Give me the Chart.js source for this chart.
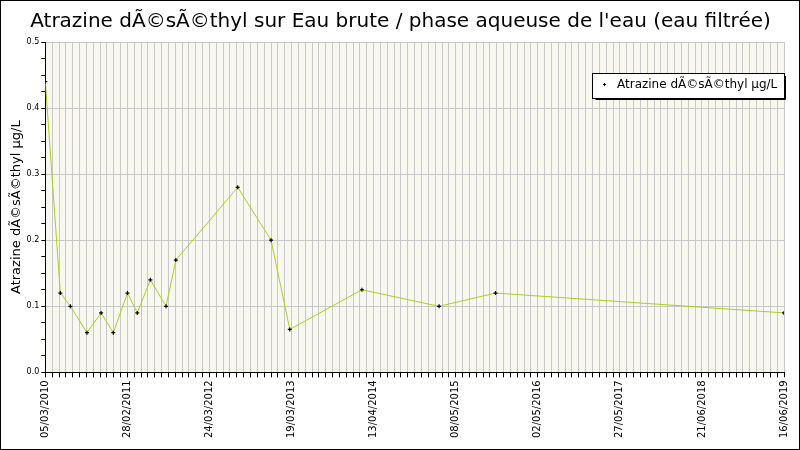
<!DOCTYPE html>
<html><head><meta charset="utf-8">
<script src="https://cdn.jsdelivr.net/npm/chart.js@4"></script>
<style>html,body{margin:0;padding:0;background:#fff}#w{width:798px;height:448px;border:1px solid #000;position:relative}</style>
</head><body><div id="w"><canvas id="c" width="798" height="448"></canvas></div>
<script>
const title = "Atrazine dÃ©sÃ©thyl sur Eau brute / phase aqueuse de l'eau (eau filtrée)";
const seriesName = "Atrazine dÃ©sÃ©thyl µg/L";
const yTitle = "Atrazine dÃ©sÃ©thyl µg/L";
const dates = ["2010-03-05","2010-05-13","2010-06-28","2010-09-12","2010-11-16","2011-01-11","2011-03-17","2011-05-01","2011-06-30","2011-09-10","2011-10-25","2012-08-04","2013-01-04","2013-03-31","2014-02-25","2015-02-14","2015-10-31","2019-06-16"];
const values = [0.44,0.12,0.10,0.06,0.09,0.06,0.12,0.09,0.14,0.10,0.17,0.28,0.20,0.065,0.125,0.10,0.12,0.09];
const tickLabels = ["05/03/2010","28/02/2011","24/03/2012","19/03/2013","13/04/2014","08/05/2015","02/05/2016","27/05/2017","21/06/2018","16/06/2019"];
const startDate = "2010-03-05", endDate = "2019-06-16";

const dayOf = s => Date.parse(s + "T00:00:00Z") / 86400000;
const x0 = dayOf(startDate), x1 = dayOf(endDate);
const pts = dates.map((d, i) => ({x: dayOf(d) - x0, y: values[i]}));
const span = x1 - x0, nLab = tickLabels.length - 1, sub = 12;

const bgPlugin = {
  id: 'bg',
  beforeDraw(ch) {
    const a = ch.chartArea, c = ch.ctx;
    c.save(); c.fillStyle = '#f8f8f0'; c.fillRect(a.left, a.top, a.right - a.left, a.bottom - a.top); c.restore();
  },
  afterDraw(ch) {
    const c = ch.ctx;
    c.save();
    const bx = 591, by = 72, bw = 192, bh = 25;
    c.fillStyle = '#fff'; c.fillRect(bx, by, bw, bh);
    c.strokeStyle = '#000'; c.lineWidth = 1; c.strokeRect(bx + 0.5, by + 0.5, bw, bh);
    c.beginPath(); c.moveTo(bx + 3.5, by + bh + 1.5); c.lineTo(bx + bw + 1.5, by + bh + 1.5); c.lineTo(bx + bw + 1.5, by + 3); c.stroke();
    c.fillStyle = '#000';
    c.fillRect(602, 83, 3, 1); c.fillRect(603, 82, 1, 3);
    c.font = '12px "DejaVu Sans"'; c.textBaseline = 'middle'; c.fillText(seriesName, 616, 84);
    c.restore();
  }
};

new Chart(document.getElementById('c'), {
  type: 'line',
  data: { datasets: [{ label: seriesName, data: pts, borderColor: '#a8d020', borderWidth: 1,
    pointStyle: 'cross', pointRadius: 2, pointBorderColor: '#000', pointBorderWidth: 1.2, tension: 0 }] },
  options: {
    responsive: false, animation: false,
    layout: { padding: { left: 8, right: 7, top: 0, bottom: 8 } },
    plugins: {
      legend: { display: false }, tooltip: { enabled: false },
      title: { display: true, text: title, color: '#000', font: { family: 'DejaVu Sans', size: 20, weight: 'normal' }, padding: { top: 9, bottom: 8 } }
    },
    scales: {
      x: {
        type: 'linear', min: 0, max: span,
        afterBuildTicks(ax) {
          const t = [];
          for (let i = 0; i <= nLab * sub; i++) t.push({ value: span * i / (nLab * sub) });
          ax.ticks = t;
        },
        ticks: { autoSkip: false, maxRotation: 90, minRotation: 90, color: '#000', padding: 3,
          font: { family: 'DejaVu Sans', size: 10 },
          callback: (v, i) => i % sub === 0 ? tickLabels[i / sub] : '' },
        grid: { color: '#c8c8c8', tickColor: '#000', tickLength: 5, drawTicks: true },
        border: { color: '#000', width: 1 }
      },
      y: {
        min: 0, max: 0.5,
        afterBuildTicks(ax) { const t = []; for (let i = 0; i <= 20; i++) t.push({ value: i * 0.025 }); ax.ticks = t; },
        ticks: { color: '#000', font: { family: 'DejaVu Sans', size: 8 }, padding: 2, autoSkip: false,
          callback: (v, i) => i % 4 === 0 ? v.toFixed(1) : '' },
        grid: { color: (c) => c.index % 4 === 0 ? '#c8c8c8' : 'rgba(0,0,0,0)', tickColor: '#000', tickLength: 4 },
        border: { color: '#000', width: 1 },
        title: { display: true, text: yTitle, color: '#000', font: { family: 'DejaVu Sans', size: 13 }, padding: 0 }
      }
    }
  },
  plugins: [bgPlugin]
});
</script></body></html>
